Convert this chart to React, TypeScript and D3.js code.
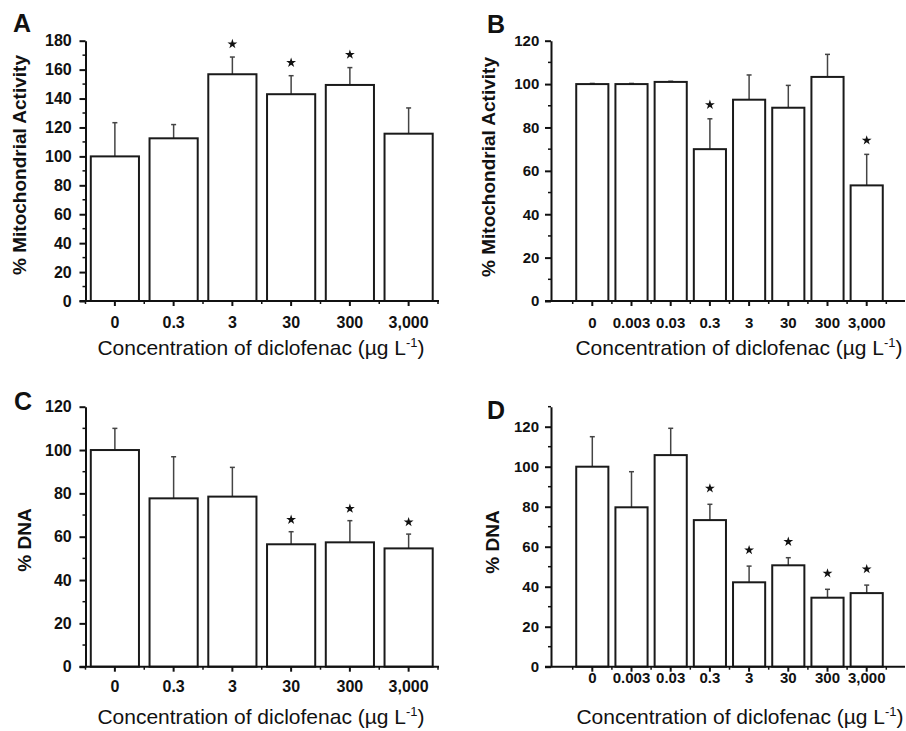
import React, { useEffect, useRef } from 'react';
import * as d3 from 'd3';

// concentrations (µg/L)
const concShort = ['0', '0.3', '3', '30', '300', '3,000'];
const concLong = ['0', '0.003', '0.03', '0.3', '3', '30', '300', '3,000'];

// A: mitochondrial activity, short series
const mitoA = [100, 112.5, 156.8, 143, 149.4, 115.7];
const mitoAErr = [23.3, 9.5, 11.9, 12.8, 12, 17.8];
const mitoASig = [false, false, true, true, true, false];

// B: mitochondrial activity, long series
const mitoB = [100, 100, 101, 70, 92.8, 89.1, 103.3, 53.3];
const mitoBErr = [0.3, 0.3, 0.3, 14, 11.4, 10.3, 10.4, 14.3];
const mitoBSig = [false, false, false, true, false, false, false, true];

// C: DNA, short series
const dnaC = [100, 77.7, 78.5, 56.5, 57.4, 54.6];
const dnaCErr = [10, 19.2, 13.5, 5.8, 10, 6.6];
const dnaCSig = [false, false, false, true, true, true];

// D: DNA, long series
const dnaD = [100, 79.7, 105.8, 73.3, 42.2, 50.7, 34.5, 36.8];
const dnaDErr = [15, 17.8, 13.4, 7.9, 8.1, 3.8, 4.2, 4];
const dnaDSig = [false, false, false, true, true, true, true, true];

const yTicksMito = [0, 20, 40, 60, 80, 100, 120, 140, 160, 180];
const yTicks120 = [0, 20, 40, 60, 80, 100, 120];

const FONT = '"Liberation Sans", Arial, Helvetica, sans-serif';

const panels = [
  {
    letter: 'A', letterX: 13, letterY: 32,
    cats: concShort, values: mitoA, errors: mitoAErr, sig: mitoASig,
    yMax: 180, yTicks: yTicksMito, yLabel: '% Mitochondrial Activity',
    axisX: 85.5, axisEnd: 439, bandLeft: 85.5, bandRight: 438,
    bottom: 301, top: 40.7,
    tickFont: 16, xPad: 10.6, yPad: 7.8, starOff: 13,
    yLabelX: 19, yLabelY: 165, xLabelX: 261, xLabelY: 355,
  },
  {
    letter: 'B', letterX: 487, letterY: 33,
    cats: concLong, values: mitoB, errors: mitoBErr, sig: mitoBSig,
    yMax: 120, yTicks: yTicks120, yLabel: '% Mitochondrial Activity',
    axisX: 551, axisEnd: 905, bandLeft: 572.7, bandRight: 886.3,
    bottom: 301, top: 40.7,
    tickFont: 15, xPad: 11.3, yPad: 5.7, starOff: 14,
    yLabelX: 488, yLabelY: 167, xLabelX: 739, xLabelY: 355,
  },
  {
    letter: 'C', letterX: 14, letterY: 410,
    cats: concShort, values: dnaC, errors: dnaCErr, sig: dnaCSig,
    yMax: 120, yTicks: yTicks120, yLabel: '% DNA',
    axisX: 85.5, axisEnd: 439, bandLeft: 85.5, bandRight: 438,
    bottom: 666.7, top: 406.7,
    tickFont: 16, xPad: 8.6, yPad: 7.8, starOff: 12,
    yLabelX: 24, yLabelY: 540, xLabelX: 261, xLabelY: 724,
  },
  {
    letter: 'D', letterX: 487, letterY: 419,
    cats: concLong, values: dnaD, errors: dnaDErr, sig: dnaDSig,
    yMax: 130, yTicks: yTicks120, yLabel: '% DNA',
    axisX: 551, axisEnd: 905, bandLeft: 572.7, bandRight: 886.3,
    bottom: 666.7, top: 406.7,
    tickFont: 15, xPad: 0.9, yPad: 6, starOff: 16,
    yLabelX: 492, yLabelY: 542, xLabelX: 740, xLabelY: 724,
  },
];

const star = d3.symbol(d3.symbolStar, 30);

const drawPanel = (svg, p) => {
  const x = d3.scaleBand()
    .domain(p.cats)
    .range([p.bandLeft, p.bandRight])
    .paddingInner(0.18)
    .paddingOuter(0.09);

  const y = d3.scaleLinear()
    .domain([0, p.yMax])
    .range([p.bottom, p.top]);

  const g = svg.append('g');
  const rows = p.values.map((v, i) => ({ cat: p.cats[i], v, e: p.errors[i], sig: p.sig[i] }));
  const cx = d => x(d.cat) + x.bandwidth() / 2;

  // error bars (upper only)
  const err = g.selectAll('.err').data(rows).enter().append('g').attr('class', 'err')
    .attr('stroke', '#444').attr('stroke-width', 1.5);
  err.append('line')
    .attr('x1', cx).attr('x2', cx)
    .attr('y1', d => y(d.v))
    .attr('y2', d => y(d.v + d.e));
  err.append('line')
    .attr('x1', d => cx(d) - 2.5)
    .attr('x2', d => cx(d) + 2.5)
    .attr('y1', d => y(d.v + d.e))
    .attr('y2', d => y(d.v + d.e));

  g.selectAll('.bar').data(rows).enter().append('rect')
    .attr('class', 'bar')
    .attr('x', d => x(d.cat))
    .attr('y', d => y(d.v))
    .attr('width', x.bandwidth())
    .attr('height', d => y(0) - y(d.v))
    .attr('fill', '#fff')
    .attr('stroke', '#1a1a1a')
    .attr('stroke-width', 2);

  // significance stars
  g.selectAll('.star').data(rows.filter(d => d.sig)).enter().append('path')
    .attr('class', 'star')
    .attr('transform', d => `translate(${cx(d)},${y(d.v + d.e) - p.starOff})`)
    .attr('d', star)
    .attr('fill', '#111');

  // y axis
  const yAxis = g.append('g')
    .attr('transform', `translate(${p.axisX},0)`)
    .call(d3.axisLeft(y).tickValues(p.yTicks).tickSize(6).tickSizeOuter(0).tickPadding(p.yPad));
  yAxis.select('.domain').attr('stroke', '#111').attr('stroke-width', 2);
  yAxis.selectAll('.tick line').attr('stroke', '#111').attr('stroke-width', 2);
  yAxis.selectAll('.tick text')
    .attr('font-family', FONT).attr('font-weight', 'bold').attr('font-size', p.tickFont).attr('fill', '#111');

  const minorY = d3.range(10, p.yMax + 1, 20);
  g.selectAll('.minor-y').data(minorY).enter().append('line')
    .attr('x1', p.axisX - 3).attr('x2', p.axisX)
    .attr('y1', d => y(d)).attr('y2', d => y(d))
    .attr('stroke', '#111').attr('stroke-width', 1.5);

  // x axis
  const xAxis = g.append('g')
    .attr('transform', `translate(0,${y(0)})`)
    .call(d3.axisBottom(x).tickSize(5).tickSizeOuter(0).tickPadding(p.xPad));
  xAxis.select('.domain').remove();
  xAxis.selectAll('.tick line').attr('stroke', '#111').attr('stroke-width', 2);
  xAxis.selectAll('.tick text')
    .attr('font-family', FONT).attr('font-weight', 'bold').attr('font-size', p.tickFont).attr('fill', '#111');

  g.append('line')
    .attr('x1', p.axisX - 6).attr('x2', p.axisEnd)
    .attr('y1', y(0)).attr('y2', y(0))
    .attr('stroke', '#111').attr('stroke-width', 2);

  const step = x.step();
  const minorX = d3.range(p.cats.length + 1).map(i => p.bandLeft + i * step);
  g.selectAll('.minor-x').data(minorX).enter().append('line')
    .attr('x1', d => d).attr('x2', d => d)
    .attr('y1', y(0)).attr('y2', y(0) + 3)
    .attr('stroke', '#111').attr('stroke-width', 1.5);

  // labels
  g.append('text')
    .attr('x', p.letterX).attr('y', p.letterY)
    .attr('font-family', FONT).attr('font-weight', 'bold').attr('font-size', 25).attr('fill', '#111')
    .text(p.letter);

  g.append('text')
    .attr('transform', `translate(${p.yLabelX},${p.yLabelY}) rotate(-90)`)
    .attr('text-anchor', 'middle')
    .attr('dominant-baseline', 'central')
    .attr('font-family', FONT).attr('font-weight', 'bold').attr('font-size', 19).attr('fill', '#111')
    .text(p.yLabel);

  const xt = g.append('text')
    .attr('x', p.xLabelX).attr('y', p.xLabelY)
    .attr('text-anchor', 'middle')
    .attr('font-family', FONT).attr('font-size', 21).attr('fill', '#111');
  xt.append('tspan').text('Concentration of diclofenac (µg L');
  xt.append('tspan').attr('dy', -8).attr('font-size', 13).text('-1');
  xt.append('tspan').attr('dy', 8).text(')');
};

const App = () => {
  const ref = useRef(null);

  useEffect(() => {
    const svg = d3.select(ref.current);
    svg.selectAll('*').remove();
    svg.append('rect').attr('width', 906).attr('height', 731).attr('fill', '#fff');
    panels.forEach(p => drawPanel(svg, p));
  }, []);

  return (
    <svg
      ref={ref}
      width="906"
      height="731"
      style={{ position: 'absolute', left: 0, top: 0, display: 'block' }}
    ></svg>
  );
};

export default App;
